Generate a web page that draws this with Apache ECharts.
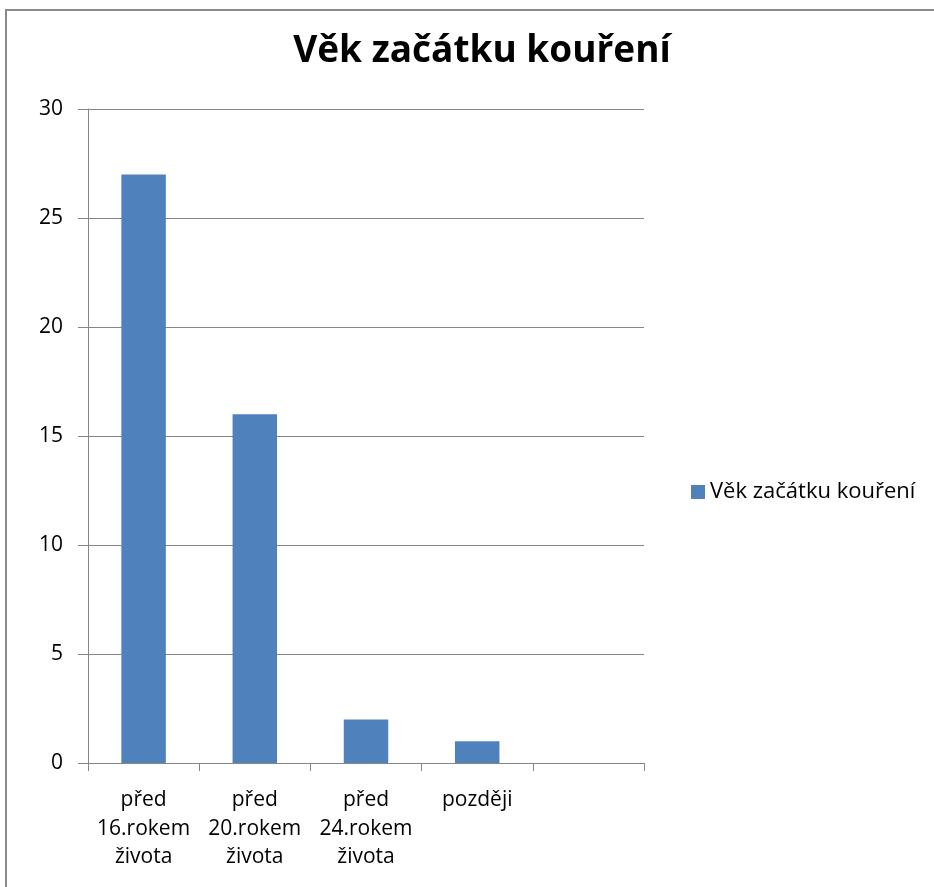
<!DOCTYPE html>
<html>
<head>
<meta charset="utf-8">
<script src="https://cdn.jsdelivr.net/npm/echarts@6/dist/echarts.min.js"></script>
<style>
  html, body { margin: 0; padding: 0; background: #fff; }
  #frame { position: absolute; left: 5px; top: 9px; width: 940px; height: 890px; border: 2px solid #8a8a8a; box-sizing: border-box; }
  #chart { position: absolute; left: 0; top: 0; width: 934px; height: 887px; }
</style>
</head>
<body>
<div id="frame"></div>
<div id="chart"></div>
<script>
const categories = ["před\n16.rokem\nživota", "před\n20.rokem\nživota", "před\n24.rokem\nživota", "později", ""];
const values = [27, 16, 2, 1, null];
const seriesName = "Věk začátku kouření";
const titleText = "Věk začátku kouření";

const chart = echarts.init(document.getElementById("chart"));
chart.setOption({
  animation: false,
  textStyle: { fontFamily: "Open Sans" },
  title: {
    text: titleText,
    left: 477,
    textAlign: "center",
    top: 28,
    textStyle: { fontFamily: "Open Sans", fontSize: 37, fontWeight: "bold", color: "#000" }
  },
  legend: {
    left: 686,
    top: 476,
    itemWidth: 14,
    itemHeight: 14,
    icon: "rect",
    textStyle: { fontFamily: "Open Sans", fontSize: 22, color: "#000" },
    data: [seriesName]
  },
  grid: { left: 88, right: 290, top: 109, bottom: 124 },
  xAxis: {
    type: "category",
    data: categories,
    axisLine: { lineStyle: { color: "#868686", width: 1 } },
    axisTick: { show: true, length: 8, lineStyle: { color: "#868686" } },
    axisLabel: { color: "#000", fontSize: 21, lineHeight: 28.5, margin: 23, interval: 0, fontFamily: "Open Sans" }
  },
  yAxis: {
    type: "value",
    min: 0,
    max: 30,
    interval: 5,
    axisLine: { show: true, lineStyle: { color: "#868686", width: 1 } },
    axisTick: { show: true, length: 10, lineStyle: { color: "#868686" } },
    axisLabel: { color: "#000", fontSize: 21, margin: 25, fontFamily: "Open Sans" },
    splitLine: { lineStyle: { color: "#868686", width: 1 } }
  },
  series: [{
    name: seriesName,
    type: "bar",
    data: values,
    barWidth: "40%",
    itemStyle: { color: "#4F81BD" }
  }]
});
</script>
</body>
</html>
